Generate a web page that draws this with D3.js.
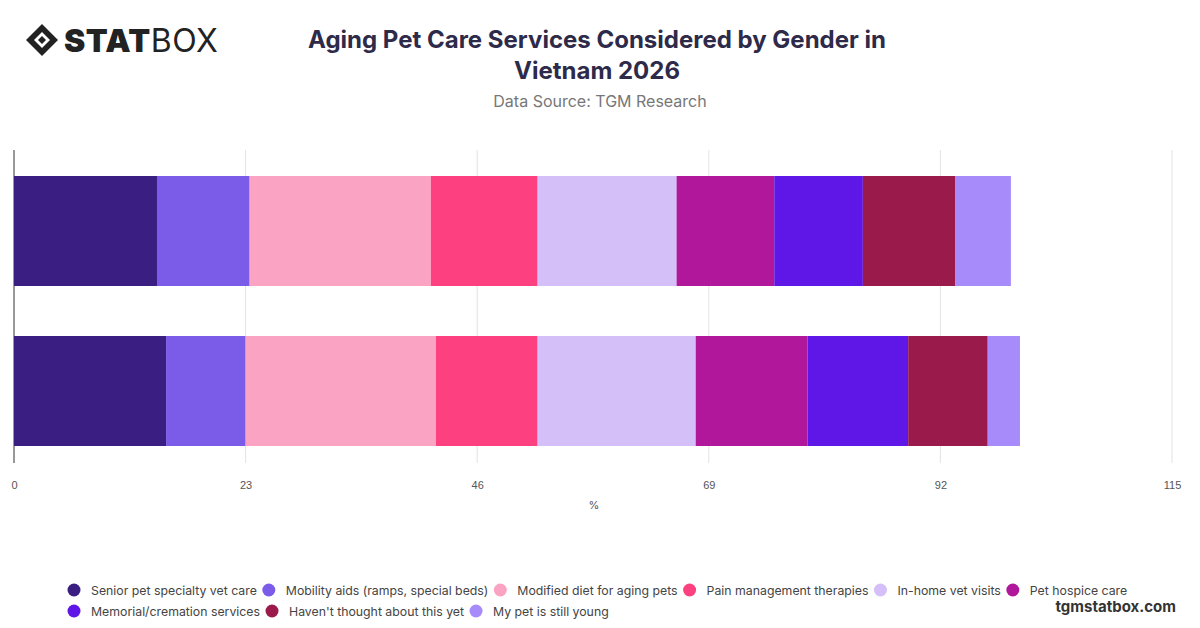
<!DOCTYPE html>
<html>
  <head>
    <script src="https://d3js.org/d3.v7.min.js"></script>
    <style>
      html, body { margin: 0; padding: 0; background: #fff; overflow: hidden; }
      svg { font-family: "Inter", "Roboto", sans-serif; }
    </style>
  </head>
  <body>
    <div id="chart"></div>
    <script>
      // Data
      const groups = ["Male", "Female"];
      const services = [
        "Senior pet specialty vet care", "Mobility aids (ramps, special beds)",
        "Modified diet for aging pets", "Pain management therapies",
        "In-home vet visits", "Pet hospice care", "Memorial/cremation services",
        "Haven't thought about this yet", "My pet is still young"
      ];
      const colors = ["#3a1e82", "#7b5ce8", "#fba3c2", "#fd4080", "#d4bff9",
                      "#b0179a", "#5f17e8", "#9a1a4b", "#a78bfa"];
      const maleValues = [14.2, 9.2, 18.0, 10.6, 13.8, 9.7, 8.8, 9.2, 5.5];
      const femaleValues = [15.1, 7.9, 18.9, 10.1, 15.7, 11.1, 10.0, 7.9, 3.2];
      const tickValues = [0, 23, 46, 69, 92, 115];

      const width = 1200, height = 628;
      const svg = d3.select("#chart").append("svg")
        .attr("width", width).attr("height", height);

      // Logo
      const logo = svg.append("g").attr("transform", "translate(26,40)");
      logo.append("path").attr("d", "M0,0 L16,-16 L32,0 L16,16 Z").attr("fill", "#222");
      logo.append("path").attr("d", "M8,0 L16,-8 L24,0 L16,8 Z").attr("fill", "#fff");
      logo.append("path").attr("d", "M12,0 L16,-4 L20,0 L16,4 Z").attr("fill", "#222");
      const lt = logo.append("text").attr("x", 38).attr("y", 12)
        .attr("font-size", 32).attr("fill", "#222").attr("letter-spacing", 0.5);
      lt.append("tspan").attr("font-weight", 900).text("STAT");
      lt.append("tspan").attr("font-weight", 400).text("BOX");

      // Title
      svg.append("text").attr("x", 597).attr("y", 48).attr("text-anchor", "middle")
        .attr("font-size", 24).attr("font-weight", 700).attr("fill", "#2e2a4a")
        .text("Aging Pet Care Services Considered by Gender in");
      svg.append("text").attr("x", 597).attr("y", 79).attr("text-anchor", "middle")
        .attr("font-size", 24).attr("font-weight", 700).attr("fill", "#2e2a4a")
        .text("Vietnam 2026");
      svg.append("text").attr("x", 600).attr("y", 107).attr("text-anchor", "middle")
        .attr("font-size", 16).attr("fill", "#777").text("Data Source: TGM Research");

      const plotTop = 150, plotBottom = 463;
      const x = d3.scaleLinear().domain([0, 115]).range([14, 1172]);
      const y = d3.scaleBand().domain(groups).range([176, 446]).paddingInner(0.3125).paddingOuter(0);

      // grid
      svg.append("g").selectAll("line").data(tickValues.slice(1)).join("line")
        .attr("x1", d => x(d)).attr("x2", d => x(d))
        .attr("y1", plotTop).attr("y2", plotBottom).attr("stroke", "#e3e3e3");
      svg.append("line").attr("x1", x(0)).attr("x2", x(0)).attr("y1", plotTop).attr("y2", plotBottom)
        .attr("stroke", "#333");

      const axis = svg.append("g").attr("transform", `translate(0,${plotBottom})`)
        .call(d3.axisBottom(x).tickValues(tickValues).tickSize(0).tickPadding(18));
      axis.select(".domain").remove();
      axis.selectAll("text").attr("font-size", 11).attr("fill", "#555");
      svg.append("text").attr("x", 594).attr("y", 509).attr("text-anchor", "middle")
        .attr("font-size", 11).attr("fill", "#555").text("%");

      const rows = [maleValues, femaleValues];
      rows.forEach((vals, gi) => {
        let acc = 0;
        vals.forEach((v, i) => {
          svg.append("rect").attr("x", x(acc)).attr("width", x(acc + v) - x(acc))
            .attr("y", y(groups[gi])).attr("height", y.bandwidth())
            .attr("fill", colors[i]);
          acc += v;
        });
      });

      // Legend
      const legendRows = [services.slice(0, 6), services.slice(6)];
      const leg = svg.append("g");
      legendRows.forEach((row, ri) => {
        let lx = 68;
        row.forEach(name => {
          const i = services.indexOf(name);
          const yy = 590 + ri * 21;
          leg.append("circle").attr("cx", lx + 6).attr("cy", yy).attr("r", 6.5).attr("fill", colors[i]);
          const t = leg.append("text").attr("x", lx + 23).attr("y", yy + 4.5)
            .attr("font-size", 12.3).attr("fill", "#444").text(name);
          lx += t.node().getComputedTextLength() + 29;
        });
      });

      svg.append("text").attr("x", 1176).attr("y", 612).attr("text-anchor", "end")
        .attr("font-size", 15).attr("font-weight", 700).attr("fill", "#333").text("tgmstatbox.com");
    </script>
  </body>
</html>
